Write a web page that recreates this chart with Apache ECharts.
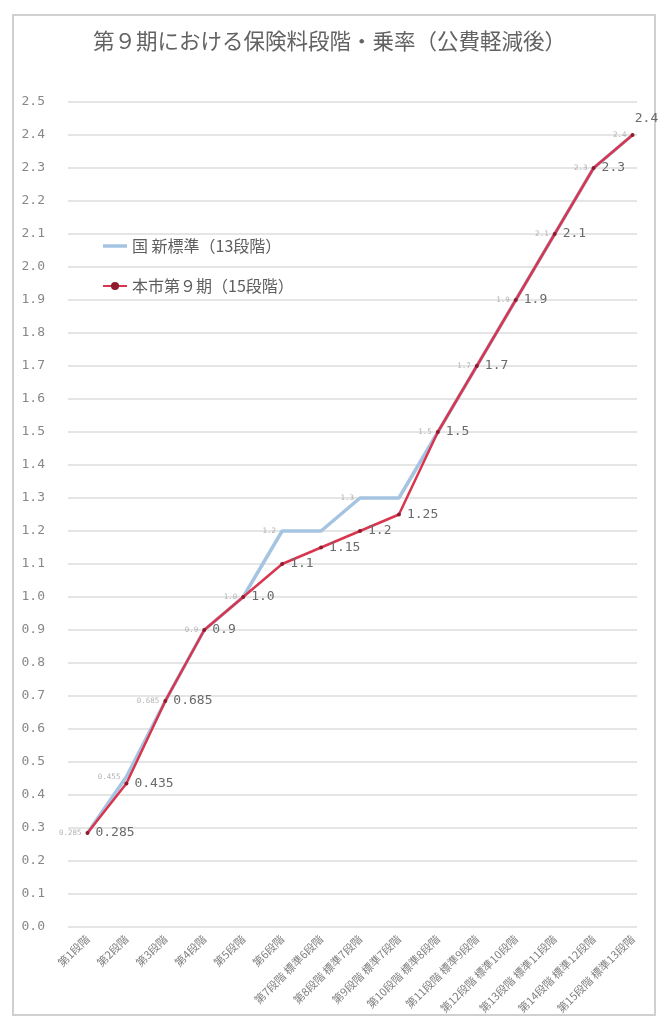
<!DOCTYPE html>
<html>
<head>
<meta charset="utf-8">
<script src="https://cdn.jsdelivr.net/npm/echarts@6/dist/echarts.min.js"></script>
<style>html,body{margin:0;padding:0;background:#fff;}#c{width:659px;height:1019px;}</style>
</head>
<body>
<div id="c"></div>
<script>
const categories = ['第1段階','第2段階','第3段階','第4段階','第5段階','第6段階',
  '第7段階 標準6段階','第8段階 標準7段階','第9段階 標準7段階','第10段階 標準8段階',
  '第11段階 標準9段階','第12段階 標準10段階','第13段階 標準11段階','第14段階 標準12段階','第15段階 標準13段階'];
const nationalValues = [0.285,0.455,0.685,0.9,1.0,1.2,1.2,1.3,1.3,1.5,1.7,1.9,2.1,2.3,2.4];
const cityValues = [0.285,0.435,0.685,0.9,1.0,1.1,1.15,1.2,1.25,1.5,1.7,1.9,2.1,2.3,2.4];
const nationalHiddenLabels = [6,8];
const seriesNames = ['国 新標準（13段階）','本市第９期（15段階）'];
const titleText = '第９期における保険料段階・乗率（公費軽減後）';

const chart = echarts.init(document.getElementById('c'), null, {renderer:'canvas'});
const mono = 'DejaVu Sans Mono';
const lastIdx = cityValues.length - 1;
const fmt = v => Number.isInteger(v) ? v.toFixed(1) : String(v);
chart.setOption({
  backgroundColor:'#fff',
  animation:false,
  title:{text:titleText,left:'center',top:25,textStyle:{fontFamily:'Noto Sans CJK JP',fontSize:21.5,fontWeight:'normal',color:'#636363'}},
  legend:{orient:'vertical',left:97,top:233,itemGap:24,itemWidth:24,itemHeight:10,
    textStyle:{fontFamily:'Noto Sans CJK JP',fontSize:16,color:'#5e5e5e'},
    data:[{name:seriesNames[0],icon:'path://M0,0L24,0L24,3.5L0,3.5Z'},{name:seriesNames[1]}]},
  graphic:[{type:'rect',shape:{x:13,y:15,width:642,height:1000},style:{fill:'none',stroke:'#d0d0d0',lineWidth:2},silent:true}],
  grid:[
    {left:68,right:22,top:102,bottom:92},
    {left:68,right:7,top:102,bottom:92}
  ],
  xAxis:[
    {gridIndex:0,type:'category',data:categories,show:false},
    {gridIndex:1,type:'category',data:categories,boundaryGap:true,
      axisLine:{show:false},axisTick:{show:false},
      axisLabel:{interval:0,rotate:45,margin:10,fontSize:11,color:'#808080',fontFamily:'Noto Sans CJK JP'}}
  ],
  yAxis:[
    {gridIndex:0,type:'value',min:0,max:2.5,interval:0.1,
      axisLine:{show:false},axisTick:{show:false},
      axisLabel:{margin:23,fontSize:13,color:'#888',fontFamily:mono,formatter:v=>v.toFixed(1)},
      splitLine:{lineStyle:{color:'#dcdcdc',width:1.5}}},
    {gridIndex:1,type:'value',min:0,max:2.5,interval:0.1,show:false,splitLine:{show:false}}
  ],
  series:[
    {name:seriesNames[0],type:'line',xAxisIndex:1,yAxisIndex:1,data:nationalValues,
      symbol:'none',lineStyle:{color:'#a5c4e2',width:3.5},itemStyle:{color:'#a5c4e2'},z:2},
    {name:'nationalLabels',type:'scatter',xAxisIndex:1,yAxisIndex:1,data:nationalValues,
      symbolSize:0,silent:true,z:2,
      label:{show:true,position:'left',distance:6,fontSize:7.5,color:'#a0a0a0',fontFamily:mono,
        formatter:p=>nationalHiddenLabels.includes(p.dataIndex)?'':fmt(p.value)}},
    {name:seriesNames[1],type:'line',xAxisIndex:1,yAxisIndex:1,
      data:cityValues.map((v,i)=>i===lastIdx?{value:v,label:{position:'top',offset:[14,-2]}}:v),
      symbol:'circle',symbolSize:4,lineStyle:{color:'#d8354e',width:2.5},itemStyle:{color:'#8e1b2e'},z:3,
      label:{show:true,position:'right',distance:6,fontSize:13,color:'#6a6a6a',fontFamily:mono,
        formatter:p=>fmt(p.value)}}
  ]
});
</script>
</body>
</html>
